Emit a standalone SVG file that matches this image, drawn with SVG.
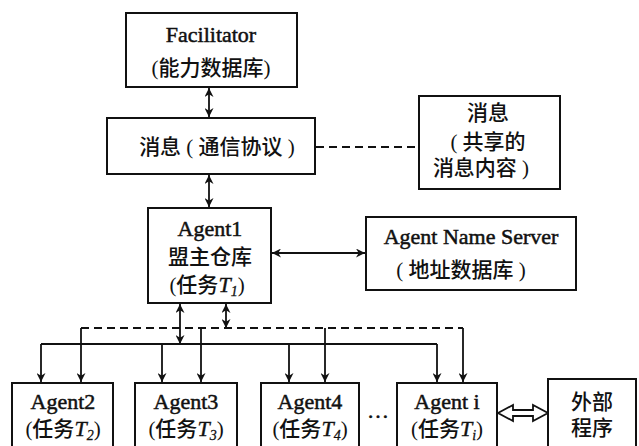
<svg xmlns="http://www.w3.org/2000/svg" width="639" height="446" viewBox="0 0 639 446">
<style>
.box{fill:#fff;stroke:#111;stroke-width:2}
.ln{fill:none;stroke:#111;stroke-width:1.8}
.dash{fill:none;stroke:#111;stroke-width:1.8;stroke-dasharray:8,5}
.en{font-family:"Liberation Serif","Times New Roman",serif;font-size:22px;fill:#111;stroke:#111;stroke-width:0.5;text-anchor:middle}
.cn{font-family:"Liberation Serif","Noto Sans CJK SC",sans-serif;font-size:21px;fill:#111;text-anchor:middle;font-weight:500}
.it{font-family:"Liberation Serif",serif;font-style:italic;font-size:22px;stroke:#111;stroke-width:0.4}
.sub{font-family:"Liberation Serif",serif;font-style:italic;font-size:14px;stroke:#111;stroke-width:0.3}
</style>
<defs>
<marker id="ah" viewBox="0 0 10 10" refX="10" refY="5" markerWidth="5.5" markerHeight="5" orient="auto-start-reverse" markerUnits="strokeWidth">
<path d="M0,0 L10,5 L0,10 L3,5 z" fill="#111"/>
</marker>
</defs>
<rect width="639" height="446" fill="#fff"/>
<g id="connectors">
<line class="ln" x1="209" y1="88" x2="209" y2="117" marker-start="url(#ah)" marker-end="url(#ah)"/>
<line class="ln" x1="209" y1="175" x2="209" y2="207" marker-start="url(#ah)" marker-end="url(#ah)"/>
<line class="dash" x1="316" y1="147" x2="418" y2="147"/>
<line class="ln" x1="272" y1="253" x2="365" y2="253" marker-start="url(#ah)" marker-end="url(#ah)"/>
<line class="ln" x1="180" y1="304" x2="180" y2="344" marker-start="url(#ah)" marker-end="url(#ah)"/>
<line class="ln" x1="226" y1="304" x2="226" y2="328" marker-start="url(#ah)" marker-end="url(#ah)"/>
<line class="dash" x1="81" y1="328" x2="463" y2="328"/>
<line class="ln" x1="41" y1="344" x2="437" y2="344"/>
<line class="ln" x1="41" y1="344" x2="41" y2="382" marker-end="url(#ah)"/>
<line class="ln" x1="81" y1="328" x2="81" y2="382" marker-end="url(#ah)"/>
<line class="ln" x1="162" y1="344" x2="162" y2="382" marker-end="url(#ah)"/>
<line class="ln" x1="201" y1="328" x2="201" y2="382" marker-end="url(#ah)"/>
<line class="ln" x1="289" y1="344" x2="289" y2="382" marker-end="url(#ah)"/>
<line class="ln" x1="325" y1="328" x2="325" y2="382" marker-end="url(#ah)"/>
<line class="ln" x1="437" y1="344" x2="437" y2="382" marker-end="url(#ah)"/>
<line class="ln" x1="463" y1="328" x2="463" y2="382" marker-end="url(#ah)"/>
<path d="M498,413 L513,405 L513,410 L533,410 L533,405 L548,413 L533,421 L533,416 L513,416 L513,421 Z" fill="#fff" stroke="#111" stroke-width="1.8" stroke-linejoin="miter"/>
</g>
<g id="facilitator">
<rect class="box" x="126" y="13" width="171" height="74"/>
<text class="en" x="211" y="42">Facilitator</text>
<text class="cn" x="211" y="75">(能力数据库)</text>
</g>
<g id="message">
<rect class="box" x="107" y="118" width="208" height="56"/>
<text class="cn" x="217" y="154">消息 ( 通信协议 )</text>
</g>
<g id="shared">
<rect class="box" x="419" y="96" width="141" height="93"/>
<text class="cn" x="488" y="120">消息</text>
<text class="cn" x="488" y="149">( 共享的</text>
<text class="cn" x="481" y="175">消息内容 )</text>
</g>
<g id="agent1">
<rect class="box" x="148" y="208" width="123" height="95"/>
<text class="en" x="210" y="236">Agent1</text>
<text class="cn" x="210" y="264">盟主仓库</text>
<text class="cn" x="207" y="292">(任务<tspan class="it">T</tspan><tspan class="sub" dy="4">1</tspan><tspan dy="-4">)</tspan></text>
</g>
<g id="ans">
<rect class="box" x="366" y="217" width="210" height="73"/>
<text class="en" x="471" y="244">Agent Name Server</text>
<text class="cn" x="461" y="277">( 地址数据库 )</text>
</g>
<g id="agent2">
<rect class="box" x="12" y="383" width="101" height="70"/>
<text class="en" x="63" y="409">Agent2</text>
<text class="cn" x="63" y="436">(任务<tspan class="it">T</tspan><tspan class="sub" dy="4">2</tspan><tspan dy="-4">)</tspan></text>
</g>
<g id="agent3">
<rect class="box" x="135" y="383" width="102" height="70"/>
<text class="en" x="186" y="409">Agent3</text>
<text class="cn" x="186" y="436">(任务<tspan class="it">T</tspan><tspan class="sub" dy="4">3</tspan><tspan dy="-4">)</tspan></text>
</g>
<g id="agent4">
<rect class="box" x="261" y="383" width="98" height="70"/>
<text class="en" x="310" y="409">Agent4</text>
<text class="cn" x="310" y="436">(任务<tspan class="it">T</tspan><tspan class="sub" dy="4">4</tspan><tspan dy="-4">)</tspan></text>
</g>
<text class="en" x="378" y="418" font-size="16" stroke-width="0">…</text>
<g id="agenti">
<rect class="box" x="397" y="383" width="100" height="70"/>
<text class="en" x="447" y="409">Agent i</text>
<text class="cn" x="447" y="436">(任务<tspan class="it">T</tspan><tspan class="sub" dy="4">i</tspan><tspan dy="-4">)</tspan></text>
</g>
<g id="external">
<rect class="box" x="548" y="379" width="88" height="74"/>
<text class="cn" x="592" y="409">外部</text>
<text class="cn" x="592" y="435">程序</text>
</g>
</svg>
